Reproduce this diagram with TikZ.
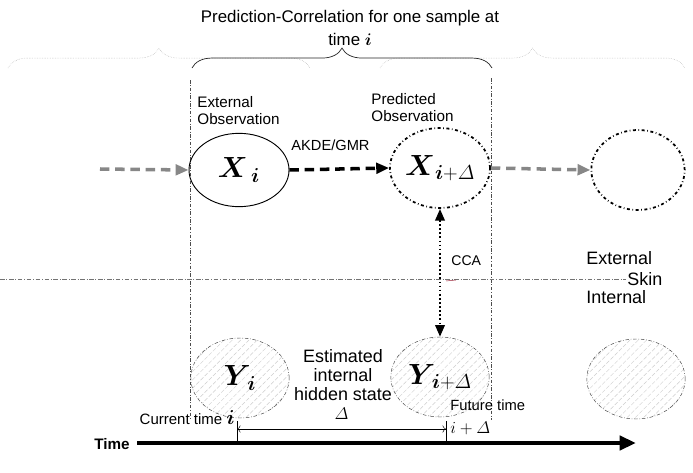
\documentclass[tikz,border=0pt]{standalone}
\usepackage{fontspec, amsmath}
\setmainfont{Liberation Sans}
\definecolor{hatchgray}{RGB}{205, 205, 205}
\definecolor{bracegray}{RGB}{165, 165, 165}
\definecolor{arrowgray}{RGB}{135, 135, 135}
\definecolor{skinred}{RGB}{150, 30, 50}
\usetikzlibrary{decorations.pathreplacing, calc, shapes.geometric, arrows.meta, patterns.meta}
\tikzset{
    every node/.style={inner sep=1pt},
    lbl/.style={font=\fontsize{13}{14.5}\selectfont},
    biglbl/.style={font=\fontsize{15.3}{16.5}\selectfont},
    mathbig/.style={font=\fontsize{25}{25}\selectfont},
    obsnode/.style={ellipse, draw, thick, minimum width=3cm,
        minimum height=2.2cm, inner sep=0pt, mathbig},
    prednode/.style={ellipse, draw, line width=1.5pt,
        dash pattern=on 2.5pt off 2.2pt on 0.6pt off 2.2pt,
        minimum width=3cm, minimum height=2.4cm, inner sep=0pt, mathbig},
    hiddennode/.style={ellipse, draw=black!75, thin,
        dash pattern=on 3pt off 1.5pt on 0.6pt off 1.5pt,
        pattern={Lines[angle=45, distance=5pt, line width=0.4pt]},
        pattern color=hatchgray, minimum width=2.95cm,
        minimum height=2.4cm, inner sep=0pt, mathbig},
    sepline/.style={black!70, thin, dash pattern=on 3pt off 1.5pt on 0.6pt off 1.5pt},
    flowarrow/.style={line width=3pt, dash pattern=on 8pt off 5pt,
        -{Triangle[length=11pt, width=9pt]}},
    bigbrace/.style={decorate, decoration={brace, amplitude=17pt}},
}

\begin{document}
\begin{tikzpicture}[x=0.03cm, y=-0.03cm]
    \useasboundingbox (0, 0) rectangle (693, 473);
    % title and braces
    \node[font=\fontsize{14.4}{19.5}\selectfont, align=center] (title) at (350, 28)
        {Prediction-Correlation for one sample at\\ time $\boldsymbol{i}$};
    \draw[bracegray, densely dotted, bigbrace] (8, 68) -- (310, 68);
    \draw[bracegray, densely dotted, bigbrace] (380, 68) -- (685, 68);
    \draw[black!85, semithick, bigbrace] (192, 68) -- (492, 68);

    % time window
    \coordinate (winL) at (190, 80);
    \coordinate (winLb) at (190, 420);
    \coordinate (winR) at (491, 78);
    \coordinate (winRb) at (491, 420);
    \draw[sepline] (winL) -- (winLb);
    \draw[sepline] (winR) -- (winRb);

    % skin
    \coordinate (skinL) at (0, 279);
    \coordinate (skinR) at (626, 279);
    \draw[black!55, thin, dash pattern=on 4pt off 1.5pt on 0.6pt off 1.5pt]
        (skinL) -- (skinR);
    \node[biglbl, anchor=west] (skin) at (skinR) {Skin};
    \node[biglbl, anchor=west] (ext) at (585, 258) {External};
    \node[biglbl, anchor=west] (int) at (585, 297) {Internal};
    \draw[skinred, thin] (446, 281) -- (456, 280);

    % observations
    \node[obsnode] (xi) at (239, 170) {$\boldsymbol{X}_{\,\boldsymbol{i}}$};
    \node[prednode] (xid) at (440, 168) {$\boldsymbol{X}_{\boldsymbol{i}+\varDelta}$};
    \node[prednode, minimum width=2.8cm] (xnext) at (638, 170) {};
    \node[lbl, align=left, anchor=west] (extobs) at (196, 111) {External\\Observation};
    \node[lbl, align=left, anchor=west] (predobs) at (370, 108) {Predicted\\Observation};
    \coordinate (xprev) at (100, 169);
    \draw[flowarrow, arrowgray] (xprev) -- (xi.west);
    \draw[flowarrow] (xi.east) -- (xid.west);
    \draw[flowarrow, arrowgray] (xid.east) -- (xnext.west);
    \node[font=\fontsize{12.5}{14}\selectfont, anchor=west] (akde) at (290, 145) {AKDE/GMR};

    % hidden states
    \node[hiddennode] (yi) at (240, 378) {$\boldsymbol{Y}_{\!\boldsymbol{i}}$};
    \node[hiddennode] (yid) at (440, 377) {$\boldsymbol{Y}_{\!\boldsymbol{i}+\varDelta}$};
    \node[hiddennode] (ynext) at (636, 379) {};
    \node[biglbl, align=center] (est) at (343, 375) {Estimated\\internal\\hidden state};
    \draw[line width=2pt, dash pattern=on 1.5pt off 2pt,
        {Triangle[length=10pt, width=8pt]}-{Triangle[length=10pt, width=8pt]}]
        (xid.south) -- (yid.north);
    \node[font=\fontsize{12}{14}\selectfont, anchor=west] (cca) at (450, 261) {CCA};

    % time axis
    \coordinate (t0) at (137, 443);
    \coordinate (t1) at (636, 443);
    \coordinate (cur) at (237, 443);
    \coordinate (fut) at (446, 443);
    \draw[line width=3.5pt, -{Triangle[length=14pt, width=12pt]}] (t0) -- (t1);
    \node[font=\bfseries\fontsize{13}{15}\selectfont, anchor=east] (time) at (131, 444) {Time};
    \draw[thin] (cur) -- ++(0, -22);
    \draw[thin] (fut) -- ++(0, -22);
    \draw[thin, {To[length=3pt]}-{To[length=3pt]}] ($(cur)+(0, -14)$) -- ($(fut)+(0, -14)$);
    \node[font=\fontsize{15}{15}\selectfont] (delta) at ($(cur)!0.5!(fut)+(0, -29)$) {$\varDelta$};
    \node[font=\fontsize{12.8}{14}\selectfont, anchor=base east] (curlbl) at (236, 424)
        {Current time {\fontsize{16}{16}\selectfont$\boldsymbol{i}$}};
    \node[font=\fontsize{12.6}{14}\selectfont, anchor=base west] (futlbl) at (449, 410) {Future time};
    \node[font=\fontsize{15}{15}\selectfont, anchor=base west] (futi) at (449, 433) {$i+\varDelta$};
\end{tikzpicture}
\end{document}
